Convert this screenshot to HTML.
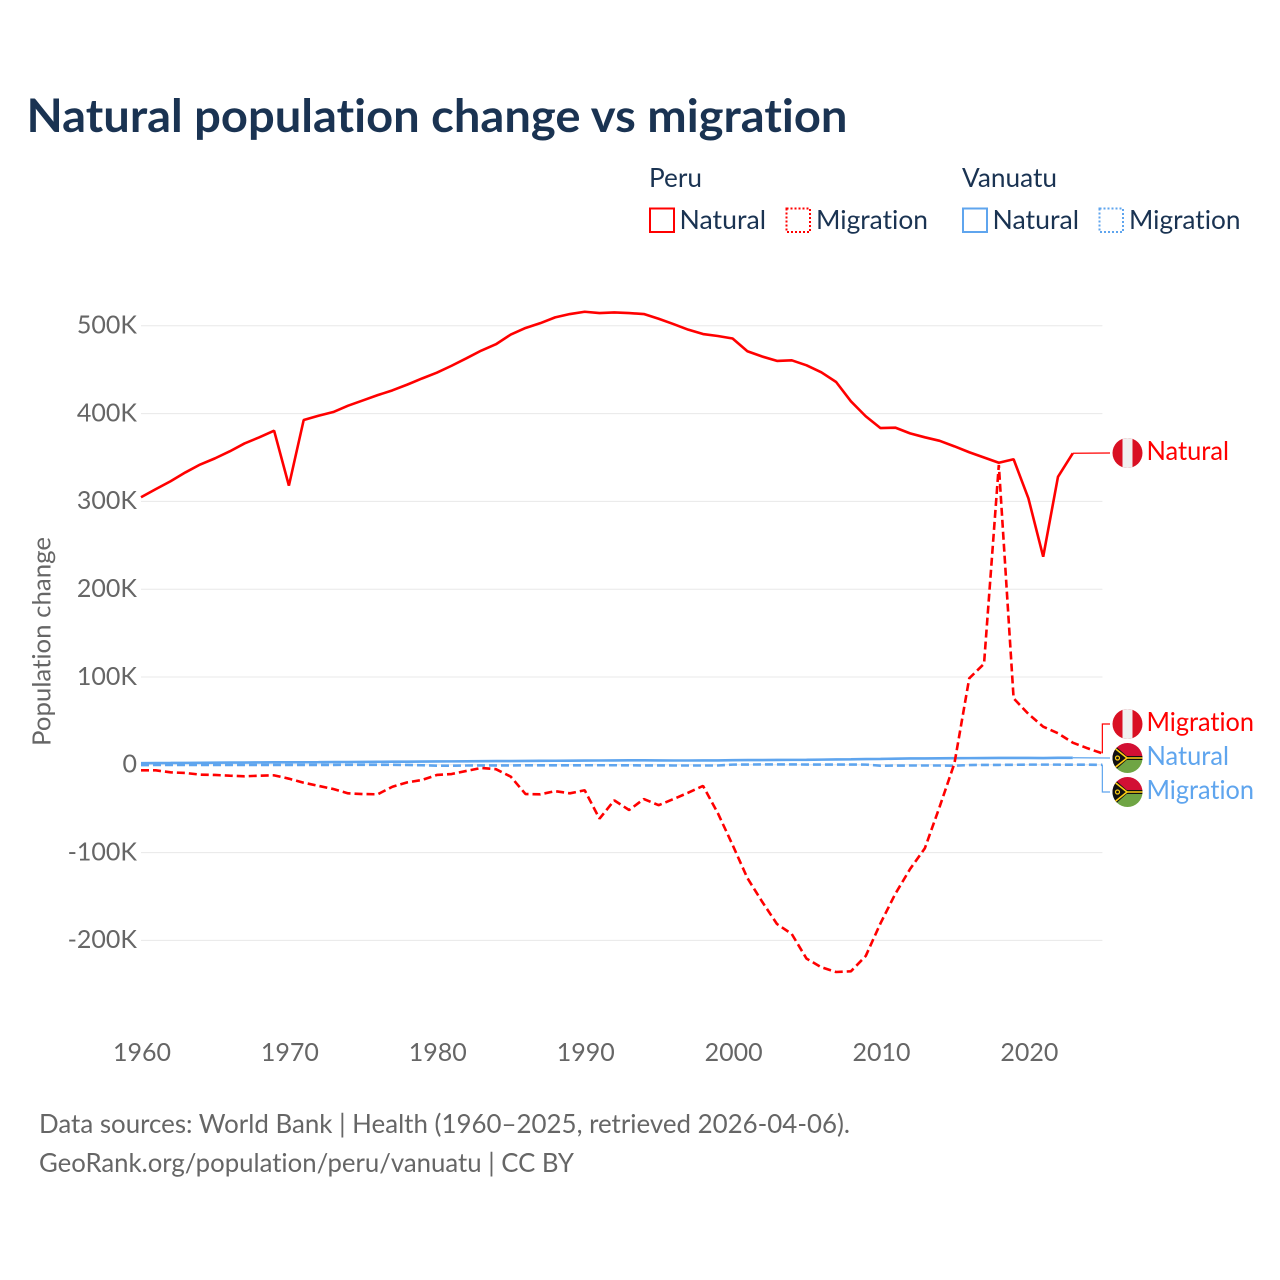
<!DOCTYPE html>
<html lang="en">
<head>
<meta charset="utf-8">
<title>Natural population change vs migration</title>
<style>
html,body{margin:0;padding:0;background:#fff;}
svg{display:block;}
text{font-family:"Lato","Carlito","Liberation Sans",sans-serif;font-variant-ligatures:none;font-feature-settings:"liga" 0,"clig" 0;}
</style>
</head>
<body>
<svg id="chart" xmlns="http://www.w3.org/2000/svg" width="1280" height="1280" viewBox="0 0 1280 1280">
  <defs>
    <clipPath id="clip-flag-peru-natural"><circle cx="1127.5" cy="453" r="15"/></clipPath>
    <clipPath id="clip-flag-peru-migration"><circle cx="1127.5" cy="724" r="15"/></clipPath>
    <clipPath id="clip-flag-vanuatu-natural"><circle cx="1127.5" cy="758" r="15"/></clipPath>
    <clipPath id="clip-flag-vanuatu-migration"><circle cx="1127.5" cy="792" r="15"/></clipPath>
  </defs>
  <rect x="0" y="0" width="1280" height="1280" fill="#ffffff"/>

  <text x="26.5" y="132" font-size="46" font-weight="700" fill="#1a3352" textLength="821" lengthAdjust="spacingAndGlyphs">Natural population change vs migration</text>

  <g font-size="26" fill="#1a3352">
    <text x="649" y="187" textLength="53" lengthAdjust="spacingAndGlyphs">Peru</text>
    <text x="962" y="187" textLength="95" lengthAdjust="spacingAndGlyphs">Vanuatu</text>

    <g>
      <rect x="650" y="208.5" width="24" height="23.5" fill="none" stroke="#ff0000" stroke-width="2"/>
      <text x="679.5" y="229" textLength="86.5" lengthAdjust="spacingAndGlyphs">Natural</text>
    </g>
    <g>
      <rect x="786.5" y="208.5" width="23.5" height="23.5" fill="none" stroke="#ff0000" stroke-width="2" stroke-dasharray="2 2"/>
      <text x="816" y="229" textLength="112" lengthAdjust="spacingAndGlyphs">Migration</text>
    </g>
    <g>
      <rect x="963" y="208.5" width="24" height="23.5" fill="none" stroke="#5fa5ee" stroke-width="2"/>
      <text x="992.5" y="229" textLength="86.5" lengthAdjust="spacingAndGlyphs">Natural</text>
    </g>
    <g>
      <rect x="1099.5" y="208.5" width="23.5" height="23.5" fill="none" stroke="#5fa5ee" stroke-width="2" stroke-dasharray="2 2"/>
      <text x="1129" y="229" textLength="111.5" lengthAdjust="spacingAndGlyphs">Migration</text>
    </g>
  </g>

  <text transform="translate(50.5 641.5) rotate(-90)" text-anchor="middle" font-size="25" fill="#666666" textLength="209" lengthAdjust="spacingAndGlyphs">Population change</text>

  <g id="grid"></g>
  <g id="y-ticks"></g>
  <g id="x-ticks"></g>
  <g id="series"></g>

  <g clip-path="url(#clip-flag-peru-natural)">
    <rect x="1112" y="438" width="31" height="30" fill="#d91023"/>
    <rect x="1122.5" y="438" width="10" height="30" fill="#f0f0f0"/>
  </g>
  <text x="1146.5" y="460" font-size="26" fill="#ff0000" textLength="82.5" lengthAdjust="spacingAndGlyphs">Natural</text>

  <g clip-path="url(#clip-flag-peru-migration)">
    <rect x="1112" y="709" width="31" height="30" fill="#d91023"/>
    <rect x="1122.5" y="709" width="10" height="30" fill="#f0f0f0"/>
  </g>
  <text x="1146.5" y="731" font-size="26" fill="#ff0000" textLength="107.5" lengthAdjust="spacingAndGlyphs">Migration</text>

  <g clip-path="url(#clip-flag-vanuatu-natural)">
    <rect x="1112" y="743" width="31" height="15" fill="#d21034"/>
    <rect x="1112" y="758" width="31" height="15" fill="#6fa544"/>
    <rect x="1112" y="756" width="31" height="4" fill="#111111"/>
    <polygon points="1112,743 1129,758 1112,773" fill="#111111"/>
    <polyline points="1112,746 1127,758 1112,770" fill="none" stroke="#fdce12" stroke-width="1.6"/>
    <line x1="1127" y1="758" x2="1143" y2="758" stroke="#fdce12" stroke-width="1.6"/>
    <circle cx="1117.5" cy="758" r="2" fill="none" stroke="#fdce12" stroke-width="1.2"/>
  </g>
  <text x="1146.5" y="765" font-size="26" fill="#5fa5ee" textLength="82.5" lengthAdjust="spacingAndGlyphs">Natural</text>

  <g clip-path="url(#clip-flag-vanuatu-migration)">
    <rect x="1112" y="777" width="31" height="15" fill="#d21034"/>
    <rect x="1112" y="792" width="31" height="15" fill="#6fa544"/>
    <rect x="1112" y="790" width="31" height="4" fill="#111111"/>
    <polygon points="1112,777 1129,792 1112,807" fill="#111111"/>
    <polyline points="1112,780 1127,792 1112,804" fill="none" stroke="#fdce12" stroke-width="1.6"/>
    <line x1="1127" y1="792" x2="1143" y2="792" stroke="#fdce12" stroke-width="1.6"/>
    <circle cx="1117.5" cy="792" r="2" fill="none" stroke="#fdce12" stroke-width="1.2"/>
  </g>
  <text x="1146.5" y="799" font-size="26" fill="#5fa5ee" textLength="107.5" lengthAdjust="spacingAndGlyphs">Migration</text>

  <g font-size="26" fill="#666666">
    <text x="39" y="1133" textLength="811" lengthAdjust="spacingAndGlyphs">Data sources: World Bank | Health (1960–2025, retrieved 2026-04-06).</text>
    <text x="39" y="1172" textLength="535" lengthAdjust="spacingAndGlyphs">GeoRank.org/population/peru/vanuatu | CC BY</text>
  </g>
</svg>

<script>
const years = [1960,1961,1962,1963,1964,1965,1966,1967,1968,1969,1970,1971,1972,1973,1974,1975,1976,1977,1978,1979,1980,1981,1982,1983,1984,1985,1986,1987,1988,1989,1990,1991,1992,1993,1994,1995,1996,1997,1998,1999,2000,2001,2002,2003,2004,2005,2006,2007,2008,2009,2010,2011,2012,2013,2014,2015,2016,2017,2018,2019,2020,2021,2022,2023,2024,2025];
const peruNatural = [304.7,314,323,333,342,349,357,366,373,380.5,318,392.7,397.6,401.8,409,415,421,426.5,433,440,446.6,454.5,463,471.7,479,490,497.5,503,509.6,513.4,516,514.5,515.2,514.5,513.4,508,502,495.6,490.6,488.4,485.5,471,465,460,460.7,455,447,436,414,397,383.5,384,377.5,373,369,362.7,356,350,344,348,303.5,237,328,354.8];
const peruMigration = [-6.3,-6.3,-8.6,-9.3,-11.2,-11.6,-12.4,-13.1,-12.4,-12,-15.8,-20.4,-24,-27.6,-32.5,-33.3,-33.6,-25,-20,-17.3,-11.6,-10.5,-7,-3.6,-5,-13.5,-33.3,-33.6,-30,-32.5,-29,-61.4,-40.5,-51.5,-39,-46,-39,-31.8,-24,-55,-91.3,-129,-156,-181.3,-192.7,-220.8,-230.6,-236,-235.2,-217.8,-180.5,-147,-118.7,-95,-47.7,1.7,98.5,115,341.5,75.7,57.9,43.4,35.9,25.2,18.8,13];
const vanuatuNatural = [1.9,2,2.1,2.2,2.3,2.4,2.5,2.6,2.7,2.8,2.8,2.9,3,3.1,3.2,3.3,3.4,3.5,3.6,3.7,3.8,3.9,4,4.1,4.2,4.3,4.4,4.5,4.6,4.7,4.8,4.9,5,5.1,5.1,5,4.9,4.9,5,5,5.3,5.4,5.4,5.5,5.6,5.7,5.9,6.1,6.3,6.5,6.7,7,7.2,7.3,7.4,7.5,7.6,7.7,7.8,7.8,7.8,7.7,7.9,8];
const vanuatuMigration = [-0.3,-0.2,-0.2,-0.2,-0.2,-0.2,-0.2,-0.2,-0.2,-0.2,-0.2,-0.1,-0.1,-0.1,0,0,0,0,-0.2,-0.5,-1,-1,-0.8,-0.7,-0.7,-0.7,-0.6,-0.6,-0.6,-0.6,-0.5,-0.5,-0.5,-0.6,-0.7,-0.7,-0.8,-0.8,-0.8,-0.8,0.2,0.3,0.4,0.4,0.4,0.3,0.3,0.3,0.3,0.2,-1,-0.9,-0.8,-0.8,-0.8,-1,-0.3,-0.1,-0.1,0,0.2,0.2,0.2,0.1,0.1,0];
const yTickValues = [-200,-100,0,100,200,300,400,500];
const yTickLabels = ["-200K","-100K","0","100K","200K","300K","400K","500K"];
const xTickValues = [1960,1970,1980,1990,2000,2010,2020];
const xTickLabels = ["1960","1970","1980","1990","2000","2010","2020"];

const SVG_NS = "http://www.w3.org/2000/svg";
function xScale(year) { return 141 + (year - 1960) * 14.79; }
function yScale(thousands) { return 764.8 - thousands * 0.878; }
function seriesPoints(values) {
  return values.map(function (v, i) { return xScale(years[i]).toFixed(2) + "," + yScale(v).toFixed(2); }).join(" ");
}

const grid = document.getElementById("grid");
const yTicks = document.getElementById("y-ticks");
const xTicks = document.getElementById("x-ticks");
const seriesLayer = document.getElementById("series");

yTickValues.forEach(function (v, i) {
  const line = document.createElementNS(SVG_NS, "line");
  
  
  line.setAttribute("x1", 141);
  line.setAttribute("x2", 1102.4);
  line.setAttribute("y1", yScale(v));
  line.setAttribute("y2", yScale(v));
  line.setAttribute("stroke", "#e8e8e8");
  line.setAttribute("stroke-width", 1);
  grid.appendChild(line);

  const label = document.createElementNS(SVG_NS, "text");
  
  
  label.setAttribute("x", 137);
  label.setAttribute("y", yScale(v) + 7.8);
  label.setAttribute("text-anchor", "end");
  label.setAttribute("font-size", 25);
  label.setAttribute("fill", "#666666");
  label.textContent = yTickLabels[i];
  yTicks.appendChild(label);
});

xTickValues.forEach(function (v, i) {
  const label = document.createElementNS(SVG_NS, "text");
  
  
  label.setAttribute("x", xScale(v) + 1);
  label.setAttribute("y", 1061);
  label.setAttribute("text-anchor", "middle");
  label.setAttribute("font-size", 25);
  label.setAttribute("fill", "#666666");
  label.textContent = xTickLabels[i];
  xTicks.appendChild(label);
});

function drawLeader(values, labelY, color, name) {
  const last = values.length - 1;
  const lx = xScale(years[last]);
  const ly = yScale(values[last]);
  const leader = document.createElementNS(SVG_NS, "polyline");
  
  
  const pts = last < years.length - 1
    ? [lx + "," + ly, "1110," + labelY]
    : [lx + "," + ly, lx + "," + labelY, "1110," + labelY];
  leader.setAttribute("points", pts.join(" "));
  leader.setAttribute("fill", "none");
  leader.setAttribute("stroke", color);
  leader.setAttribute("stroke-width", 1.2);
  seriesLayer.appendChild(leader);
}

function drawSeries(values, color, dashed, name) {
  const line = document.createElementNS(SVG_NS, "polyline");
  
  
  line.setAttribute("points", seriesPoints(values));
  line.setAttribute("fill", "none");
  line.setAttribute("stroke", color);
  line.setAttribute("stroke-width", 2.6);
  line.setAttribute("stroke-linejoin", "bevel");
  if (dashed) { line.setAttribute("stroke-dasharray", "8 4"); }
  seriesLayer.appendChild(line);
}

drawLeader(vanuatuNatural, 758, "#5fa5ee", "leader-vanuatu-natural");
drawLeader(vanuatuMigration, 792, "#5fa5ee", "leader-vanuatu-migration");
drawLeader(peruNatural, 453, "#ff0000", "leader-peru-natural");
drawLeader(peruMigration, 724, "#ff0000", "leader-peru-migration");
drawSeries(vanuatuNatural, "#5fa5ee", false, "line-vanuatu-natural");
drawSeries(vanuatuMigration, "#5fa5ee", true, "line-vanuatu-migration");
drawSeries(peruNatural, "#ff0000", false, "line-peru-natural");
drawSeries(peruMigration, "#ff0000", true, "line-peru-migration");
</script>
</body>
</html>
